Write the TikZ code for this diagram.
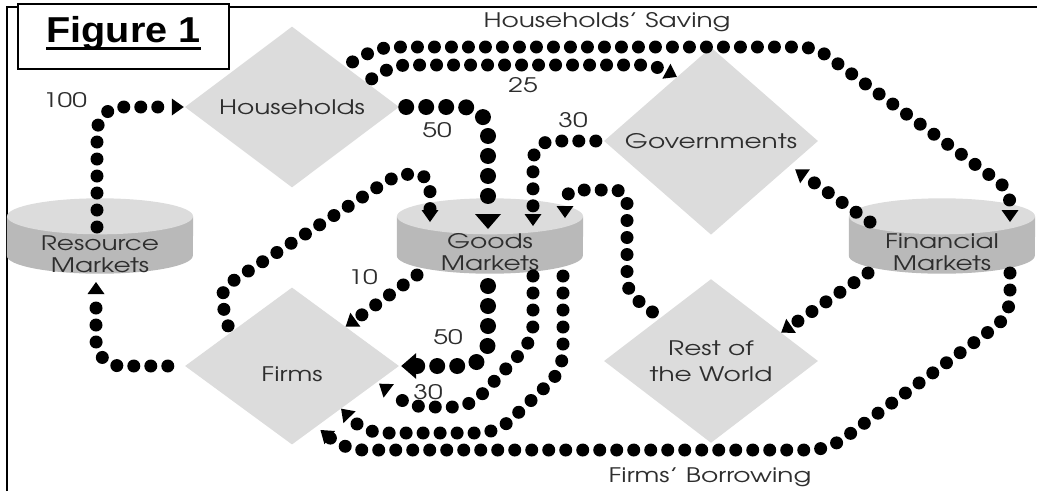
\documentclass[tikz,border=0pt]{standalone}
\usepackage{fontspec}
\usepackage{tikz}
\usetikzlibrary{arrows.meta,positioning,calc,shapes.geometric}
\newfontfamily\gothic[FakeStretch=1.32]{TeX Gyre Adventor}
\newfontfamily\arialb[FakeStretch=1.1]{Liberation Sans Bold}
\newcommand{\flowfont}{\gothic\fontsize{20}{22}\selectfont}
\definecolor{pale}{HTML}{DCDCDC}
\definecolor{body}{HTML}{B9B9B9}
\definecolor{ink}{HTML}{2E2E2E}
% market drum: dark body, pale top
\newcommand{\drum}[1]{%
  \fill[body] ([yshift=-18pt]#1.north west) -- ([yshift=18pt]#1.south west)
    arc[start angle=180, end angle=360, x radius=93pt, y radius=18pt]
    -- ([yshift=-18pt]#1.north east) -- cycle;
  \fill[pale] ([yshift=-18pt]#1.north) ellipse [x radius=93pt, y radius=18pt];}

\begin{document}
\begin{tikzpicture}[x=1pt, y=-1pt,
  dm/.style={diamond, fill=pale, minimum width=214pt, minimum height=157pt, inner sep=0pt,
    text=ink, font=\flowfont, align=center},
  mk/.style={minimum width=186pt, minimum height=75pt, inner sep=0pt},
  tx/.style={text=ink, font=\flowfont, align=center, inner sep=0pt},
  nm/.style={text=ink, font=\flowfont, inner sep=0pt},
  fl/.style={line width=13pt, line cap=round, dash pattern=on 0pt off 17pt, rounded corners=14pt,
    -{Triangle[width=17pt,length=12pt,line width=0pt]}},
  bf/.style={fl, line width=16pt, dash pattern=on 0pt off 20pt, rounded corners=25pt,
    -{Triangle[width=26pt,length=15pt,line width=0pt]}}]
  \useasboundingbox (0,0) rectangle (1037,491);
  \draw[line width=2pt] (7,491) -- (7,7) -- (1037,7);
  \node[draw, line width=2pt, fill=white, minimum width=211pt, minimum height=65pt] (fig) at (123.5,36.5) {};
  \node[font=\arialb\fontsize{36}{40}\selectfont, inner sep=0pt] (figt) at ([yshift=3pt]fig.center) {Figure 1};
  \draw[line width=3pt] ([yshift=-6pt]figt.base west) -- ([yshift=-6pt]figt.base east);
  % sectors
  \node[dm] (hh) at (292,107) {Households};
  \node[dm] (gv) at (711,141) {Governments};
  \node[dm, text height=32pt] (fi) at (292,366) {Firms};
  \node[dm] (ro) at (711,361) {Rest of\\[4pt]the World};
  % markets
  \node[mk] (rm) at (100,236) {};
  \node[mk] (gm) at (490,236) {};
  \node[mk] (fm) at (942,236) {};
  \drum{rm} \drum{gm} \drum{fm}
  \node[tx] (rmt) at ([yshift=-18pt]rm.center) {Resource\\Markets};
  \node[tx] (gmt) at ([yshift=-16pt]gm.center) {Goods\\Markets};
  \node[tx] (fmt) at ([yshift=-16pt]fm.center) {Financial\\Markets};
  % flows
  \draw[fl, rounded corners=25pt] ([xshift=-3pt,yshift=9pt]rm.center) |- ([xshift=-1pt]hh.west);
  \draw[bf] ([xshift=7pt]hh.east) -| ([xshift=-2pt,yshift=7pt]gm.center);
  \draw[fl, rounded corners=12pt] ([xshift=10pt]hh.22) -- (395,65) -- (655,65) -- (gv.118);
  \draw[fl] ([xshift=8pt,yshift=4pt]hh.38) -- (380,47) -- (815,47) -- (1010,190)
    -- ([xshift=68pt,yshift=14pt]fm.center);
  \draw[fl, rounded corners=20pt] ([xshift=-8pt]gv.west) -| ([xshift=43pt,yshift=10pt]gm.center);
  \draw[fl] ([shift={(-6pt,4pt)}]fi.148) -- (219,290) -- (398,174) -| ([xshift=-60pt,yshift=14pt]gm.center);
  \draw[fl] ([xshift=-73pt,yshift=-39pt]gm.center) -- (fi.north east);
  \draw[bf] ([xshift=-2pt,yshift=-50pt]gm.center) |- ([xshift=2pt]fi.east);
  \draw[fl, rounded corners=16pt] ([xshift=43pt,yshift=-40pt]gm.center) -- (533,340) -- (470,407)
    -- (410,407) -- ([xshift=4pt]fi.-12);
  \draw[fl, rounded corners=18pt] ([xshift=73pt,yshift=-40pt]gm.center) -- (563,370) -- (497,433)
    -- (365,433) -- (fi.-41);
  \draw[fl, rounded corners=18pt] ([xshift=68pt,yshift=-37pt]fm.center) -- (1010,316) -- (828,450)
    -- (345,450) -- ([shift={(3pt,-4pt)}]fi.-67);
  \draw[fl, rounded corners=12pt] ([xshift=-5pt,yshift=8pt]ro.north west) -- (627,292) -- (627,190)
    -| ([xshift=75pt,yshift=18pt]gm.center);
  \draw[fl] ([xshift=-72pt,yshift=14pt]fm.center) -- ([shift={(6pt,-3pt)}]gv.-18);
  \draw[fl] ([xshift=-74pt,yshift=-37pt]fm.center) -- (ro.22);
  \draw[fl, rounded corners=25pt] ([xshift=-17pt]fi.west) -| ([xshift=-4pt,yshift=-46pt]rm.center);
  % amounts
  \node[nm] (n100) at (65,100) {100};
  \node[nm] (n50a) at (437,130) {50};
  \node[nm] (n25) at (523,85) {25};
  \node[nm] (n30a) at (573,120) {30};
  \node[nm] (n10) at (363,277) {10};
  \node[nm] (n50b) at (448,337) {50};
  \node[nm] (n30b) at (428,392) {30};
  \node[nm] (sav) at (607,22) {Households’ Saving};
  \node[nm] (bor) at (710,477) {Firms’ Borrowing};
\end{tikzpicture}
\end{document}
